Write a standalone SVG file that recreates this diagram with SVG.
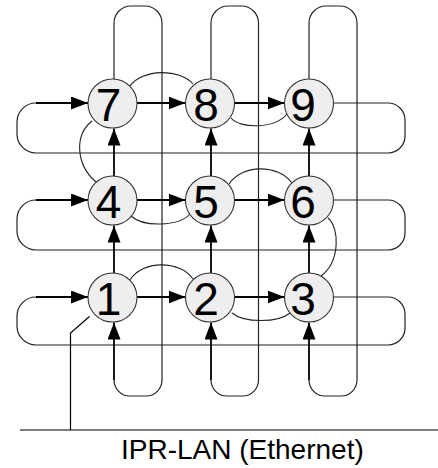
<svg xmlns="http://www.w3.org/2000/svg" width="438" height="468" viewBox="0 0 438 468">
  <defs>
    <marker id="tip" markerUnits="userSpaceOnUse" markerWidth="17" markerHeight="13" refX="17" refY="6.5" orient="auto">
      <path d="M0,0 L17,6.5 L0,13 Z" fill="#000"/>
    </marker>
  </defs>
  <style>
    .loop { fill: none; stroke: #222; stroke-width: 1.2; }
    .link { fill: none; stroke: #222; stroke-width: 1.1; }
    .arr { fill: none; stroke: #000; stroke-width: 1.8; marker-end: url(#tip); }
    .lan { fill: none; stroke: #000; stroke-width: 1.2; }
    .node circle { fill: #eeeeee; stroke: #333; stroke-width: 1.1; }
    .node text { font-family: "Liberation Sans", Arial, sans-serif; font-size: 46px; fill: #000; text-anchor: middle; }
    .label { font-family: "Liberation Sans", Arial, sans-serif; font-size: 28px; fill: #000; }
  </style>

  <g id="connectors">
    <!-- row wrap-around loops -->
    <path class="loop" d="M333.5,103 H388 A17,17 0 0 1 405,120 V136 A17,17 0 0 1 388,153 H36 A19,19 0 0 1 17,134 V122 A19,19 0 0 1 36,103"/>
    <path class="loop" d="M333.5,200 H388 A17,17 0 0 1 405,217 V233 A17,17 0 0 1 388,250 H36 A19,19 0 0 1 17,231 V219 A19,19 0 0 1 36,200"/>
    <path class="loop" d="M333.5,297 H388 A17,17 0 0 1 405,314 V328 A17,17 0 0 1 388,345 H36 A19,19 0 0 1 17,326 V316 A19,19 0 0 1 36,297"/>
    <!-- column wrap-around loops -->
    <path class="loop" d="M114,79 V23 A17,17 0 0 1 131,6 H145 A17,17 0 0 1 162,23 V380 A16,16 0 0 1 146,396 H130 A16,16 0 0 1 114,380"/>
    <path class="loop" d="M211,79 V23 A17,17 0 0 1 228,6 H241.5 A17,17 0 0 1 258.5,23 V380 A16,16 0 0 1 242.5,396 H227 A16,16 0 0 1 211,380"/>
    <path class="loop" d="M309,79 V23 A17,17 0 0 1 326,6 H340 A17,17 0 0 1 357,23 V380 A16,16 0 0 1 341,396 H325 A16,16 0 0 1 309,380"/>

    <!-- entry arrows from the loops -->
    <path class="arr" d="M36,103 H88"/>
    <path class="arr" d="M36,200 H88"/>
    <path class="arr" d="M36,297 H88"/>
    <path class="arr" d="M114,380 V322.5"/>
    <path class="arr" d="M211,380 V322.5"/>
    <path class="arr" d="M309,380 V322.5"/>

    <!-- horizontal arrows between nodes -->
    <path class="arr" d="M137,103 H185.5"/>
    <path class="arr" d="M234.5,103 H284.5"/>
    <path class="arr" d="M137,200 H185.5"/>
    <path class="arr" d="M234.5,200 H284.5"/>
    <path class="arr" d="M137,297 H185.5"/>
    <path class="arr" d="M234.5,297 H284.5"/>

    <!-- vertical arrows between nodes -->
    <path class="arr" d="M114,176 V128.5"/>
    <path class="arr" d="M114,273 V225.5"/>
    <path class="arr" d="M211,176 V128.5"/>
    <path class="arr" d="M211,273 V225.5"/>
    <path class="arr" d="M309,176 V128.5"/>
    <path class="arr" d="M309,273 V225.5"/>

    <!-- snake path links 1-2-3-6-5-4-7-8-9 -->
    <path class="link" d="M130,280 C142,260 180,260 193,279"/>
    <path class="link" d="M232,313 C244,323 278,323 290,313"/>
    <path class="link" d="M321,276 C340,262 340,228 328,218"/>
    <path class="link" d="M229,184 C242,164 278,164 292,183"/>
    <path class="link" d="M131,216 C143,227 178,227 190,214"/>
    <path class="link" d="M96,182 C76,165 74,135 92,121"/>
    <path class="link" d="M130,86 C142,69 180,68 193,84"/>
    <path class="link" d="M231,118 C240,129 275,129 287,114"/>

    <!-- attachment of node 1 to the LAN -->
    <path class="lan" d="M89.5,316.5 L70.5,333 V430"/>
    <path class="lan" d="M20,430 H438"/>
  </g>

  <g id="node7" class="node"><circle cx="112.5" cy="103.5" r="24.5"/><text x="108.5" y="120.5">7</text></g>
  <g id="node8" class="node"><circle cx="210" cy="103.5" r="24.5"/><text x="206" y="120.5">8</text></g>
  <g id="node9" class="node"><circle cx="309" cy="103.5" r="24.5"/><text x="303" y="120.5">9</text></g>
  <g id="node4" class="node"><circle cx="112.5" cy="200.5" r="24.5"/><text x="108.5" y="217.5">4</text></g>
  <g id="node5" class="node"><circle cx="210" cy="200.5" r="24.5"/><text x="206" y="217.5">5</text></g>
  <g id="node6" class="node"><circle cx="309" cy="200.5" r="24.5"/><text x="303" y="217.5">6</text></g>
  <g id="node1" class="node"><circle cx="112.5" cy="297.5" r="24.5"/><text x="108.5" y="314.5">1</text></g>
  <g id="node2" class="node"><circle cx="210" cy="297.5" r="24.5"/><text x="206" y="314.5">2</text></g>
  <g id="node3" class="node"><circle cx="309" cy="297.5" r="24.5"/><text x="303" y="314.5">3</text></g>

  <g id="lan-label">
    <text class="label" x="121" y="459">IPR-LAN (Ethernet)</text>
  </g>
</svg>
